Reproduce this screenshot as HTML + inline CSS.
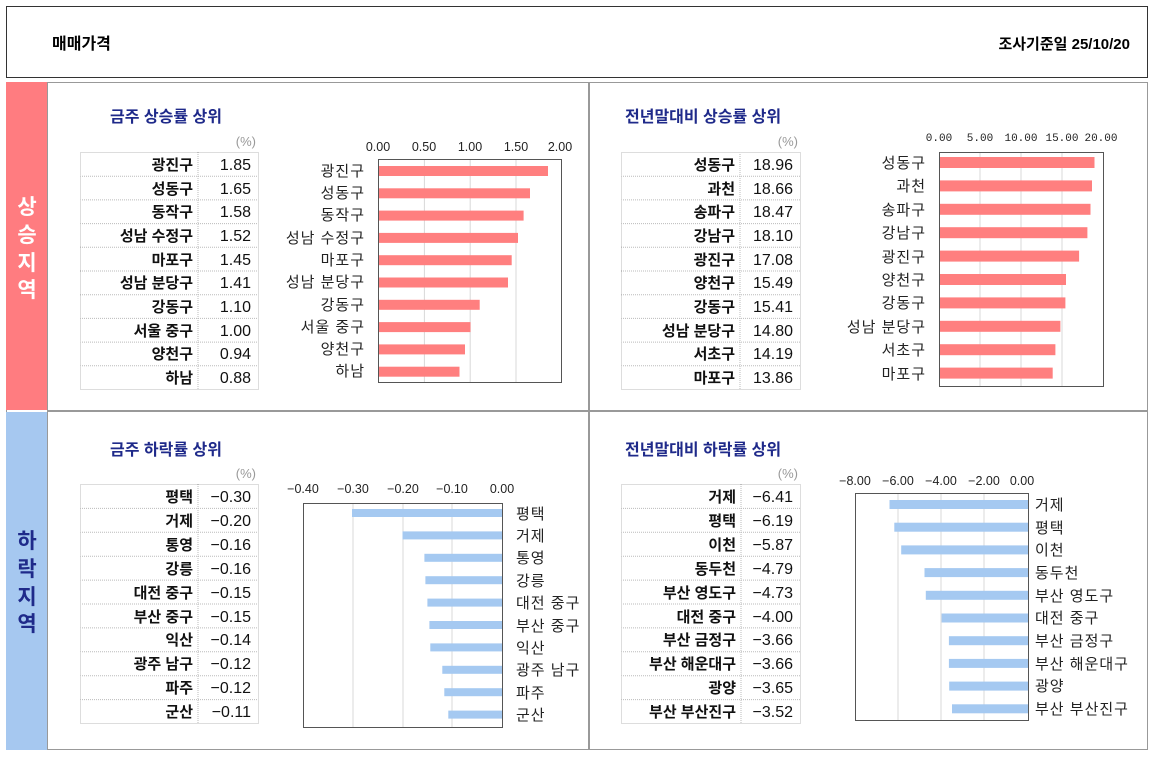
<!DOCTYPE html>
<html><head><meta charset="utf-8"><style>
html,body{margin:0;padding:0;background:#fff;}
svg{display:block;font-family:"Liberation Sans","Noto Sans CJK KR",sans-serif;}
.t{font-size:15px;font-weight:bold;fill:#111;text-anchor:end}
.v{font-size:16px;fill:#111;text-anchor:end}
.h{font-size:16px;font-weight:bold;fill:#1f2a8a}
.p{font-size:13px;fill:#999;text-anchor:end}
.ax{font-size:12.5px;fill:#222;text-anchor:middle}
.lb{font-size:15px;fill:#222;letter-spacing:1px}
.sd{font-size:21px;fill:#fff;text-anchor:middle;font-weight:bold}
.rb{fill:#ff7f7f}.bb{fill:#a5c9f1}
.g{stroke:#d8d8d8;stroke-width:1}
.dt{stroke:#bbb;stroke-width:1;stroke-dasharray:1 1;fill:none}
</style></head><body>
<svg width="1157" height="761" viewBox="0 0 1157 761">
<rect x="6.5" y="6.5" width="1141" height="71" fill="#fff" stroke="#333"/>
<text x="52" y="49" style="font-size:16px;font-weight:bold">매매가격</text>
<text x="1130" y="49" style="font-size:15px;font-weight:bold;text-anchor:end">조사기준일  25/10/20</text>
<rect x="6.5" y="82.5" width="1141" height="667" fill="#fff" stroke="#999"/>
<rect x="6" y="82" width="41" height="328" fill="#ff7c80"/>
<rect x="6" y="412" width="41" height="338" fill="#a6c8f0"/>
<line x1="47" y1="411" x2="1148" y2="411" stroke="#999" stroke-width="2"/>
<line x1="589" y1="82" x2="589" y2="750" stroke="#999" stroke-width="2"/>
<line x1="47.5" y1="82" x2="47.5" y2="750" stroke="#999"/>
<text class="sd" x="27" y="214">상</text><text class="sd" x="27" y="242">승</text><text class="sd" x="27" y="270">지</text><text class="sd" x="27" y="297">역</text>
<text class="sd" x="27" y="548" style="fill:#1f2a8a">하</text><text class="sd" x="27" y="576" style="fill:#1f2a8a">락</text><text class="sd" x="27" y="604" style="fill:#1f2a8a">지</text><text class="sd" x="27" y="631" style="fill:#1f2a8a">역</text>

<text class="h" x="110" y="122">금주 상승률 상위</text>
<text class="p" x="256" y="146">(%)</text>
<text class="h" x="625" y="122">전년말대비 상승률 상위</text>
<text class="p" x="798" y="146">(%)</text>
<text class="h" x="110" y="455">금주 하락률 상위</text>
<text class="p" x="256" y="478">(%)</text>
<text class="h" x="625" y="455">전년말대비 하락률 상위</text>
<text class="p" x="798" y="478">(%)</text>

<g>
<rect class="dt" x="80.5" y="152.5" width="178" height="237"/>
<line class="dt" x1="198" y1="152" x2="198" y2="389"/>
<line class="dt" x1="80" y1="176.2" x2="258" y2="176.2"/><line class="dt" x1="80" y1="199.9" x2="258" y2="199.9"/><line class="dt" x1="80" y1="223.6" x2="258" y2="223.6"/><line class="dt" x1="80" y1="247.3" x2="258" y2="247.3"/><line class="dt" x1="80" y1="271" x2="258" y2="271"/><line class="dt" x1="80" y1="294.7" x2="258" y2="294.7"/><line class="dt" x1="80" y1="318.4" x2="258" y2="318.4"/><line class="dt" x1="80" y1="342.1" x2="258" y2="342.1"/><line class="dt" x1="80" y1="365.8" x2="258" y2="365.8"/>
<text class="t" x="193" y="170">광진구</text><text class="v" x="251" y="170">1.85</text>
<text class="t" x="193" y="194">성동구</text><text class="v" x="251" y="194">1.65</text>
<text class="t" x="193" y="217">동작구</text><text class="v" x="251" y="217">1.58</text>
<text class="t" x="193" y="241">성남 수정구</text><text class="v" x="251" y="241">1.52</text>
<text class="t" x="193" y="265">마포구</text><text class="v" x="251" y="265">1.45</text>
<text class="t" x="193" y="288">성남 분당구</text><text class="v" x="251" y="288">1.41</text>
<text class="t" x="193" y="312">강동구</text><text class="v" x="251" y="312">1.10</text>
<text class="t" x="193" y="336">서울 중구</text><text class="v" x="251" y="336">1.00</text>
<text class="t" x="193" y="359">양천구</text><text class="v" x="251" y="359">0.94</text>
<text class="t" x="193" y="383">하남</text><text class="v" x="251" y="383">0.88</text>
</g>
<g>
<rect class="dt" x="621.5" y="152.5" width="179" height="237"/>
<line class="dt" x1="740" y1="152" x2="740" y2="389"/>
<line class="dt" x1="621" y1="176.2" x2="800" y2="176.2"/><line class="dt" x1="621" y1="199.9" x2="800" y2="199.9"/><line class="dt" x1="621" y1="223.6" x2="800" y2="223.6"/><line class="dt" x1="621" y1="247.3" x2="800" y2="247.3"/><line class="dt" x1="621" y1="271" x2="800" y2="271"/><line class="dt" x1="621" y1="294.7" x2="800" y2="294.7"/><line class="dt" x1="621" y1="318.4" x2="800" y2="318.4"/><line class="dt" x1="621" y1="342.1" x2="800" y2="342.1"/><line class="dt" x1="621" y1="365.8" x2="800" y2="365.8"/>
<text class="t" x="735" y="170">성동구</text><text class="v" x="793" y="170">18.96</text>
<text class="t" x="735" y="194">과천</text><text class="v" x="793" y="194">18.66</text>
<text class="t" x="735" y="217">송파구</text><text class="v" x="793" y="217">18.47</text>
<text class="t" x="735" y="241">강남구</text><text class="v" x="793" y="241">18.10</text>
<text class="t" x="735" y="265">광진구</text><text class="v" x="793" y="265">17.08</text>
<text class="t" x="735" y="288">양천구</text><text class="v" x="793" y="288">15.49</text>
<text class="t" x="735" y="312">강동구</text><text class="v" x="793" y="312">15.41</text>
<text class="t" x="735" y="336">성남 분당구</text><text class="v" x="793" y="336">14.80</text>
<text class="t" x="735" y="359">서초구</text><text class="v" x="793" y="359">14.19</text>
<text class="t" x="735" y="383">마포구</text><text class="v" x="793" y="383">13.86</text>
</g>
<g>
<rect class="dt" x="80.5" y="484.5" width="178" height="239"/>
<line class="dt" x1="198" y1="484" x2="198" y2="723"/>
<line class="dt" x1="80" y1="508.4" x2="258" y2="508.4"/><line class="dt" x1="80" y1="532.3" x2="258" y2="532.3"/><line class="dt" x1="80" y1="556.2" x2="258" y2="556.2"/><line class="dt" x1="80" y1="580.1" x2="258" y2="580.1"/><line class="dt" x1="80" y1="604" x2="258" y2="604"/><line class="dt" x1="80" y1="627.9" x2="258" y2="627.9"/><line class="dt" x1="80" y1="651.8" x2="258" y2="651.8"/><line class="dt" x1="80" y1="675.7" x2="258" y2="675.7"/><line class="dt" x1="80" y1="699.6" x2="258" y2="699.6"/>
<text class="t" x="193" y="502">평택</text><text class="v" x="251" y="502">−0.30</text>
<text class="t" x="193" y="526">거제</text><text class="v" x="251" y="526">−0.20</text>
<text class="t" x="193" y="550">통영</text><text class="v" x="251" y="550">−0.16</text>
<text class="t" x="193" y="574">강릉</text><text class="v" x="251" y="574">−0.16</text>
<text class="t" x="193" y="598">대전 중구</text><text class="v" x="251" y="598">−0.15</text>
<text class="t" x="193" y="622">부산 중구</text><text class="v" x="251" y="622">−0.15</text>
<text class="t" x="193" y="645">익산</text><text class="v" x="251" y="645">−0.14</text>
<text class="t" x="193" y="669">광주 남구</text><text class="v" x="251" y="669">−0.12</text>
<text class="t" x="193" y="693">파주</text><text class="v" x="251" y="693">−0.12</text>
<text class="t" x="193" y="717">군산</text><text class="v" x="251" y="717">−0.11</text>
</g>
<g>
<rect class="dt" x="621.5" y="484.5" width="179" height="239"/>
<line class="dt" x1="741" y1="484" x2="741" y2="723"/>
<line class="dt" x1="621" y1="508.4" x2="800" y2="508.4"/><line class="dt" x1="621" y1="532.3" x2="800" y2="532.3"/><line class="dt" x1="621" y1="556.2" x2="800" y2="556.2"/><line class="dt" x1="621" y1="580.1" x2="800" y2="580.1"/><line class="dt" x1="621" y1="604" x2="800" y2="604"/><line class="dt" x1="621" y1="627.9" x2="800" y2="627.9"/><line class="dt" x1="621" y1="651.8" x2="800" y2="651.8"/><line class="dt" x1="621" y1="675.7" x2="800" y2="675.7"/><line class="dt" x1="621" y1="699.6" x2="800" y2="699.6"/>
<text class="t" x="736" y="502">거제</text><text class="v" x="793" y="502">−6.41</text>
<text class="t" x="736" y="526">평택</text><text class="v" x="793" y="526">−6.19</text>
<text class="t" x="736" y="550">이천</text><text class="v" x="793" y="550">−5.87</text>
<text class="t" x="736" y="574">동두천</text><text class="v" x="793" y="574">−4.79</text>
<text class="t" x="736" y="598">부산 영도구</text><text class="v" x="793" y="598">−4.73</text>
<text class="t" x="736" y="622">대전 중구</text><text class="v" x="793" y="622">−4.00</text>
<text class="t" x="736" y="645">부산 금정구</text><text class="v" x="793" y="645">−3.66</text>
<text class="t" x="736" y="669">부산 해운대구</text><text class="v" x="793" y="669">−3.66</text>
<text class="t" x="736" y="693">광양</text><text class="v" x="793" y="693">−3.65</text>
<text class="t" x="736" y="717">부산 부산진구</text><text class="v" x="793" y="717">−3.52</text>
</g>

<g>
<line class="g" x1="424.4" y1="159" x2="424.4" y2="382"/><line class="g" x1="470.2" y1="159" x2="470.2" y2="382"/><line class="g" x1="516" y1="159" x2="516" y2="382"/>
<text class="ax" x="378" y="151">0.00</text><text class="ax" x="424" y="151">0.50</text><text class="ax" x="470" y="151">1.00</text><text class="ax" x="516" y="151">1.50</text><text class="ax" x="560" y="151">2.00</text>
<rect class="rb" x="379" y="166" width="169" height="10"/>
<rect class="rb" x="379" y="188.3" width="151" height="10"/>
<rect class="rb" x="379" y="210.6" width="144.6" height="10"/>
<rect class="rb" x="379" y="232.9" width="139" height="10"/>
<rect class="rb" x="379" y="255.2" width="132.7" height="10"/>
<rect class="rb" x="379" y="277.5" width="129" height="10"/>
<rect class="rb" x="379" y="299.8" width="100.7" height="10"/>
<rect class="rb" x="379" y="322.1" width="91.5" height="10"/>
<rect class="rb" x="379" y="344.4" width="86" height="10"/>
<rect class="rb" x="379" y="366.7" width="80.5" height="10"/>
<rect x="378.5" y="159.5" width="183" height="223" fill="none" stroke="#555"/>
<g class="lb" text-anchor="end">
<text x="365" y="176">광진구</text><text x="365" y="198">성동구</text><text x="365" y="220">동작구</text><text x="365" y="243">성남 수정구</text><text x="365" y="265">마포구</text><text x="365" y="287">성남 분당구</text><text x="365" y="310">강동구</text><text x="365" y="332">서울 중구</text><text x="365" y="354">양천구</text><text x="365" y="376">하남</text>
</g>
</g>
<g>
<line class="g" x1="980" y1="152" x2="980" y2="386"/><line class="g" x1="1021" y1="152" x2="1021" y2="386"/><line class="g" x1="1062" y1="152" x2="1062" y2="386"/>
<g style="font-size:11px;font-family:'Liberation Mono','Noto Sans CJK KR',monospace;fill:#222" text-anchor="middle">
<text x="939" y="141">0.00</text><text x="980" y="141">5.00</text><text x="1021" y="141">10.00</text><text x="1062" y="141">15.00</text><text x="1101" y="141">20.00</text></g>
<rect class="rb" x="939" y="157" width="155.5" height="11"/>
<rect class="rb" x="939" y="180.4" width="153" height="11"/>
<rect class="rb" x="939" y="203.8" width="151.5" height="11"/>
<rect class="rb" x="939" y="227.2" width="148.4" height="11"/>
<rect class="rb" x="939" y="250.6" width="140.1" height="11"/>
<rect class="rb" x="939" y="274" width="127" height="11"/>
<rect class="rb" x="939" y="297.4" width="126.4" height="11"/>
<rect class="rb" x="939" y="320.8" width="121.4" height="11"/>
<rect class="rb" x="939" y="344.2" width="116.4" height="11"/>
<rect class="rb" x="939" y="367.6" width="113.7" height="11"/>
<rect x="939.5" y="152.5" width="164" height="234" fill="none" stroke="#555"/>
<g class="lb" text-anchor="end">
<text x="926" y="168">성동구</text><text x="926" y="191">과천</text><text x="926" y="215">송파구</text><text x="926" y="238">강남구</text><text x="926" y="262">광진구</text><text x="926" y="285">양천구</text><text x="926" y="308">강동구</text><text x="926" y="332">성남 분당구</text><text x="926" y="355">서초구</text><text x="926" y="379">마포구</text>
</g>
</g>
<g>
<line class="g" x1="353" y1="503" x2="353" y2="727"/><line class="g" x1="403" y1="503" x2="403" y2="727"/><line class="g" x1="452" y1="503" x2="452" y2="727"/>
<text class="ax" x="303" y="493">−0.40</text><text class="ax" x="353" y="493">−0.30</text><text class="ax" x="403" y="493">−0.20</text><text class="ax" x="452" y="493">−0.10</text><text class="ax" x="502" y="493">0.00</text>
<rect class="bb" x="352" y="509" width="150" height="8"/>
<rect class="bb" x="402.5" y="531.4" width="99.5" height="8"/>
<rect class="bb" x="424.4" y="553.8" width="77.6" height="8"/>
<rect class="bb" x="425.4" y="576.2" width="76.6" height="8"/>
<rect class="bb" x="427.4" y="598.6" width="74.6" height="8"/>
<rect class="bb" x="429.4" y="621" width="72.6" height="8"/>
<rect class="bb" x="430.3" y="643.4" width="71.7" height="8"/>
<rect class="bb" x="442.3" y="665.8" width="59.7" height="8"/>
<rect class="bb" x="444.3" y="688.2" width="57.7" height="8"/>
<rect class="bb" x="448.3" y="710.6" width="53.7" height="8"/>
<rect x="303.5" y="503.5" width="199" height="224" fill="none" stroke="#555"/>
<g class="lb">
<text x="516" y="519">평택</text><text x="516" y="541">거제</text><text x="516" y="563">통영</text><text x="516" y="586">강릉</text><text x="516" y="608">대전 중구</text><text x="516" y="631">부산 중구</text><text x="516" y="653">익산</text><text x="516" y="675">광주 남구</text><text x="516" y="698">파주</text><text x="516" y="720">군산</text>
</g>
</g>
<g>
<line class="g" x1="898" y1="493" x2="898" y2="720"/><line class="g" x1="941" y1="493" x2="941" y2="720"/><line class="g" x1="984" y1="493" x2="984" y2="720"/>
<text class="ax" x="855" y="485">−8.00</text><text class="ax" x="898" y="485">−6.00</text><text class="ax" x="941" y="485">−4.00</text><text class="ax" x="984" y="485">−2.00</text><text class="ax" x="1022" y="485">0.00</text>
<rect class="bb" x="889.5" y="500" width="138.5" height="9"/>
<rect class="bb" x="894.3" y="522.7" width="133.7" height="9"/>
<rect class="bb" x="901.2" y="545.4" width="126.8" height="9"/>
<rect class="bb" x="924.5" y="568.1" width="103.5" height="9"/>
<rect class="bb" x="925.8" y="590.8" width="102.2" height="9"/>
<rect class="bb" x="941.6" y="613.5" width="86.4" height="9"/>
<rect class="bb" x="948.9" y="636.2" width="79.1" height="9"/>
<rect class="bb" x="948.9" y="658.9" width="79.1" height="9"/>
<rect class="bb" x="949.2" y="681.6" width="78.8" height="9"/>
<rect class="bb" x="952" y="704.3" width="76" height="9"/>
<rect x="855.5" y="493.5" width="173" height="227" fill="none" stroke="#555"/>
<g class="lb">
<text x="1035" y="510">거제</text><text x="1035" y="533">평택</text><text x="1035" y="555">이천</text><text x="1035" y="578">동두천</text><text x="1035" y="601">부산 영도구</text><text x="1035" y="623">대전 중구</text><text x="1035" y="646">부산 금정구</text><text x="1035" y="669">부산 해운대구</text><text x="1035" y="691">광양</text><text x="1035" y="714">부산 부산진구</text>
</g>
</g>
</svg>
</body></html>
